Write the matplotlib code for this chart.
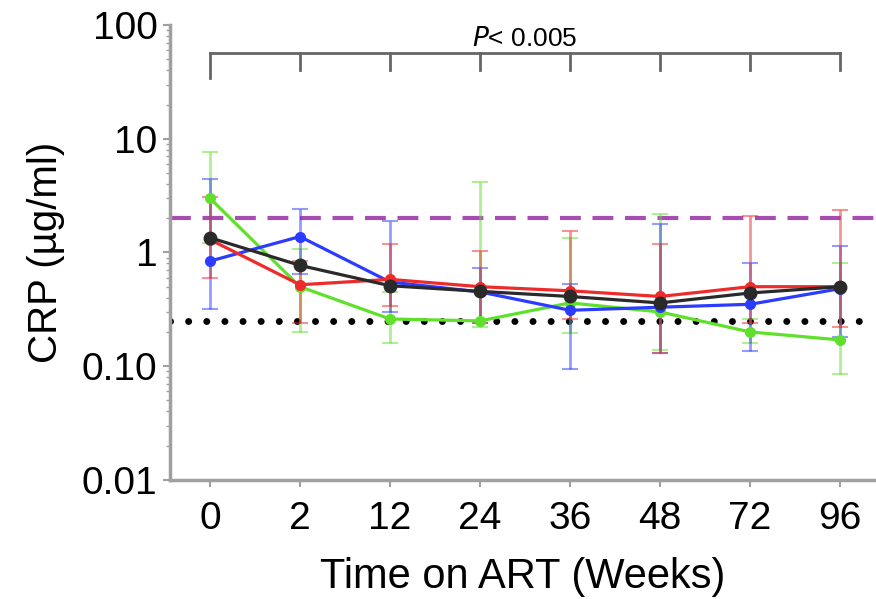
import numpy as np
import matplotlib.pyplot as plt
from matplotlib.ticker import LogLocator, FixedLocator, NullFormatter

plt.rcParams['font.family'] = ['Liberation Sans', 'DejaVu Sans']

weeks = ['0', '2', '12', '24', '36', '48', '72', '96']

green_mean = [3.0, 0.50, 0.26, 0.25, 0.36, 0.30, 0.20, 0.17]
green_lo = [1.2, 0.20, 0.16, 0.22, 0.195, 0.14, 0.16, 0.085]
green_hi = [7.7, 1.08, 0.45, 4.2, 1.33, 2.18, 0.26, 0.80]

red_mean = [1.3, 0.52, 0.58, 0.50, 0.46, 0.41, 0.50, 0.50]
red_lo = [0.6, 0.24, 0.34, 0.24, 0.26, 0.13, 0.24, 0.22]
red_hi = [3.05, 0.85, 1.19, 1.03, 1.53, 1.19, 2.1, 2.37]

blue_mean = [0.84, 1.38, 0.55, 0.45, 0.31, 0.33, 0.35, 0.48]
blue_lo = [0.32, 0.65, 0.30, 0.24, 0.095, 0.13, 0.136, 0.18]
blue_hi = [4.4, 2.42, 1.91, 0.73, 0.53, 1.78, 0.80, 1.13]

black_mean = [1.35, 0.77, 0.51, 0.455, 0.41, 0.36, 0.44, 0.50]

upper_ref = 2.0
lower_ref = 0.25
p_text = '$\\it{P}$< 0.005'

fig = plt.figure(figsize=(8.76, 5.99), dpi=100)
ax = fig.add_axes([0.194, 0.199, 0.806, 0.759])
x = np.arange(len(weeks))

series = [
    (green_mean, green_lo, green_hi, '#5fe02a'),
    (blue_mean, blue_lo, blue_hi, '#2b3cff'),
    (red_mean, red_lo, red_hi, '#ee2b2b'),
]
for mean, lo, hi, col in series:
    mean = np.array(mean)
    err = [mean - np.array(lo), np.array(hi) - mean]
    ax.errorbar(x, mean, yerr=err, fmt='none', ecolor=col, alpha=0.5,
                elinewidth=2, capsize=6, capthick=1.5, zorder=2)
    ax.plot(x, mean, '-o', color=col, lw=2.3, ms=7, zorder=3)

ax.plot(x, black_mean, '-o', color='#2a2a2a', lw=2.3, ms=9, zorder=4)

ax.axhline(upper_ref, color='#9b3aa8', lw=3, ls=(0, (5, 2.8)), alpha=0.9, zorder=1)
ax.axhline(lower_ref, color='black', lw=5, ls=(0, (0.01, 2.6)),
           dash_capstyle='round', zorder=1)

# significance bracket
yb = 57
ax.plot([x[0], x[-1]], [yb, yb], color='#666666', lw=2, clip_on=False)
for i in x:
    bottom = 34 if i == 0 else 40
    ax.plot([i, i], [yb, bottom], color='#666666', lw=2, clip_on=False)
ax.text((x[0] + x[-1]) / 2, 59, p_text, ha='center', va='bottom', fontsize=19)

ax.set_yscale('log')
ax.set_ylim(0.01, 100)
ax.set_xlim(-0.444, 7.4)
ax.set_xticks(x)
ax.set_xticklabels(weeks)
ax.yaxis.set_major_locator(FixedLocator([0.01, 0.1, 1, 10, 100]))
ax.set_yticklabels(['0.01', '0.10', '1', '10', '100'])
ax.yaxis.set_minor_locator(LogLocator(base=10, subs=np.arange(2, 10)))
ax.yaxis.set_minor_formatter(NullFormatter())

for s in ['top', 'right']:
    ax.spines[s].set_visible(False)
for s in ['left', 'bottom']:
    ax.spines[s].set_color('#a0a0a0')
    ax.spines[s].set_linewidth(2.5)
ax.tick_params(axis='both', which='major', labelsize=28, color='#a0a0a0', width=1.5, length=5)
ax.tick_params(axis='y', which='major', pad=4)
ax.tick_params(axis='x', which='major', pad=10)
ax.tick_params(axis='y', which='minor', color='#a0a0a0', width=1, length=3)

ax.set_ylabel('CRP (µg/ml)', fontsize=29, labelpad=12)
ax.set_xlabel('Time on ART (Weeks)', fontsize=30, labelpad=15)

fig.savefig('out.png', dpi=100)
